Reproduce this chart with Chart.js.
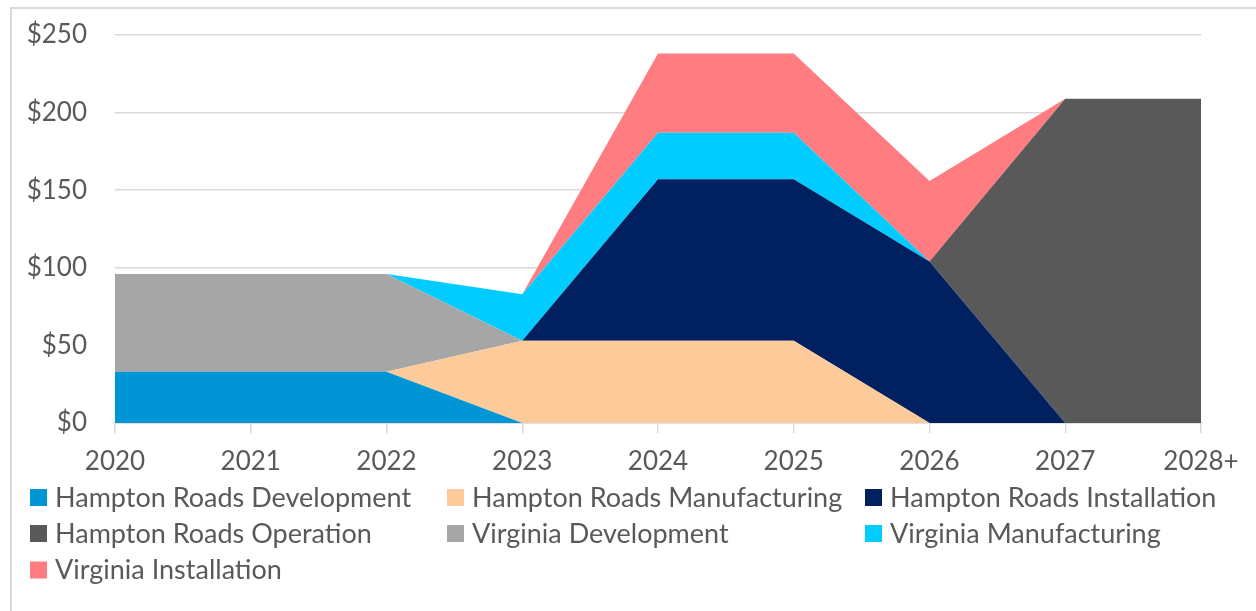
<!DOCTYPE html>
<html><head><meta charset="utf-8">
<script src="https://cdn.jsdelivr.net/npm/chart.js@4.4.0/dist/chart.umd.min.js"></script>
<style>
html,body{margin:0;padding:0;background:#fff;overflow:hidden}
#frame{position:absolute;left:10px;top:7px;width:1400px;height:800px;border-top:2px solid #d9d9d9;border-left:2px solid #d9d9d9;box-sizing:border-box}
#wrap{position:absolute;left:0;top:0;width:1256px;height:611px}
</style></head><body>
<div id="frame"></div>
<div id="wrap"><canvas id="c" width="1256" height="611"></canvas></div>
<script>
const categories = ['2020', '2021', '2022', '2023', '2024', '2025', '2026', '2027', '2028+'];
const seriesNames = ['Hampton Roads Development', 'Hampton Roads Manufacturing', 'Hampton Roads Installation',
  'Hampton Roads Operation', 'Virginia Development', 'Virginia Manufacturing', 'Virginia Installation'];
const hrDevelopment   = [33, 33, 33, 0, 0, 0, 0, 0, 0];
const hrManufacturing = [0, 0, 0, 53, 53, 53, 0, 0, 0];
const hrInstallation  = [0, 0, 0, 0, 104, 104, 104, 0, 0];
const hrOperation     = [0, 0, 0, 0, 0, 0, 0, 209, 209];
const vaDevelopment   = [63, 63, 63, 0, 0, 0, 0, 0, 0];
const vaManufacturing = [0, 0, 0, 30, 30, 30, 0, 0, 0];
const vaInstallation  = [0, 0, 0, 0, 51, 51, 52, 0, 0];
const yTicks = [0, 50, 100, 150, 200, 250];

const colors = ['#0096D6', '#FDCA99', '#002060', '#595959', '#A6A6A6', '#00CCFF', '#FF7C80'];
const values = [hrDevelopment, hrManufacturing, hrInstallation, hrOperation, vaDevelopment, vaManufacturing, vaInstallation];

const FONT = 'Lato';
const FS = 26;
const LFS = 27;
const TXT = '#595959';
const GRID = '#d9d9d9';
const LEG = 128;

const legendPlugin = {
  id: 'gridLegend',
  afterDraw(chart) {
    const ctx = chart.ctx;
    ctx.save();
    ctx.font = LFS + 'px ' + FONT;
    ctx.textBaseline = 'alphabetic';
    ctx.textAlign = 'left';
    const cols = [30, 447, 865];
    const rows = [497.5, 533.5, 570];
    chart.data.datasets.forEach((ds, i) => {
      const x = cols[i % 3], y = rows[Math.floor(i / 3)];
      ctx.fillStyle = ds.backgroundColor;
      ctx.fillRect(x, y - 8.5, 17, 17);
      ctx.fillStyle = TXT;
      ctx.fillText(ds.label, x + 25, y + 9);
    });
    ctx.restore();
  }
};

new Chart(document.getElementById('c'), {
  type: 'line',
  data: {
    labels: categories,
    datasets: seriesNames.map((name, i) => ({
      label: name,
      data: values[i],
      backgroundColor: colors[i],
      borderColor: colors[i],
      borderWidth: 0,
      pointRadius: 0,
      fill: i === 0 ? 'origin' : '-1',
      tension: 0
    }))
  },
  options: {
    responsive: false,
    animation: false,
    devicePixelRatio: 1,
    layout: { padding: { left: 0, right: 55, top: 35, bottom: LEG } },
    plugins: { legend: { display: false }, tooltip: { enabled: false } },
    scales: {
      x: {
        offset: false,
        grid: { drawOnChartArea: false, drawTicks: true, tickLength: 10, color: GRID, lineWidth: 1.5 },
        border: { display: true, color: GRID, width: 1.5 },
        ticks: { color: TXT, font: { family: FONT, size: FS }, padding: 13, maxRotation: 0, autoSkip: false },
        afterFit(s) { s.height = 188 - LEG; s.paddingLeft = 0; s.paddingRight = 0; }
      },
      y: {
        stacked: true,
        min: 0, max: 250,
        afterBuildTicks(s) { s.ticks = yTicks.map(v => ({ value: v })); },
        ticks: { color: TXT, font: { family: FONT, size: FS }, padding: 28, callback: v => '$' + v },
        grid: { color: GRID, lineWidth: 1.5, drawTicks: false },
        border: { display: false },
        afterFit(s) { s.width = 115; s.paddingTop = 0; s.paddingBottom = 0; }
      }
    }
  },
  plugins: [legendPlugin]
});
</script>
</body></html>
